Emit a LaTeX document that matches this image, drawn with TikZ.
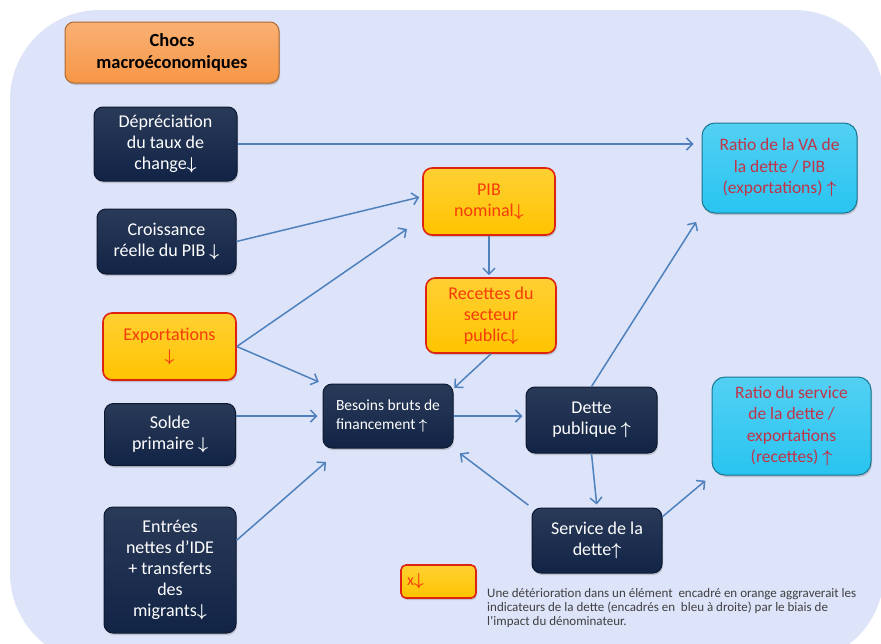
\documentclass[tikz,border=0pt]{standalone}
\usepackage{amsmath}
\usepackage{fontspec}
\setmainfont{Carlito}
\usepackage{xcolor}
\usetikzlibrary{arrows.meta, shadows, positioning}

\definecolor{fond}{RGB}{221,227,249}
\definecolor{marine}{RGB}{18,36,70}
\definecolor{jaune}{RGB}{255,196,0}
\definecolor{rouge}{RGB}{222,36,16}
\definecolor{orangetxt}{RGB}{245,60,10}
\definecolor{orangebox}{RGB}{247,150,70}
\definecolor{ciel}{RGB}{40,196,240}
\definecolor{cieltxt}{RGB}{192,52,72}
\definecolor{flechebleu}{RGB}{79,129,189}
\definecolor{note}{RGB}{64,64,64}

\newcommand{\bas}{$\boldsymbol{\downarrow}$}
\newcommand{\haut}{$\boldsymbol{\uparrow}$}

\begin{document}
\begin{tikzpicture}[x=1pt, y=-1pt,
    box/.style={rounded corners=9pt, align=center, inner sep=2pt,
        drop shadow={opacity=0.35, shadow xshift=1pt, shadow yshift=-2pt}},
    choc/.style={box, top color=marine!90!white, bottom color=marine, draw=marine!70!black,
        line width=1pt, text=white, font=\fontsize{18}{21}\selectfont},
    alerte/.style={box, top color=jaune!80!white, bottom color=jaune, draw=rouge,
        line width=1.6pt, text=orangetxt, font=\fontsize{18}{21}\selectfont},
    ratio/.style={box, rounded corners=13pt, top color=ciel!80!white, bottom color=ciel,
        draw=ciel!60!black, line width=1pt, text=cieltxt, font=\fontsize{17.5}{21.5}\selectfont},
    fleche/.style={-{Straight Barb[length=6pt, width=12pt]}, draw=flechebleu, line width=1.5pt}]

    % Background panel
    \useasboundingbox (0,0) rectangle (881,643);
    \clip (0,0) rectangle (881,643);
    \fill[white] (0,0) rectangle (881,643);
    \fill[fond, rounded corners=90pt] (10,10) rectangle (884,663);

    % Title box
    \node[box, top color=orangebox!75!white, bottom color=orangebox, draw=orangebox!70!black,
        line width=1pt, font=\bfseries\fontsize{18.5}{21.5}\selectfont,
        minimum width=214pt, minimum height=61pt] (chocs) at (172,52.5) {Chocs\\macroéconomiques};

    % Shocks on the left
    \node[choc, minimum width=143pt, minimum height=74pt] (deprec) at (165.5,144)
        {Dépréciation\\du taux de\\change\bas};
    \node[choc, minimum width=139pt, minimum height=65pt] (croiss) at (166.5,241.5)
        {Croissance\\réelle du PIB \bas};
    \node[alerte, minimum width=133pt, minimum height=67pt] (export) at (169.5,346.5)
        {Exportations\\\bas};
    \node[choc, minimum width=131pt, minimum height=62pt] (solde) at (170,434.5)
        {Solde\\primaire \bas};
    \node[choc, minimum width=132pt, minimum height=126pt] (entrees) at (170,570)
        {Entrées\\nettes d’IDE\\+ transferts\\des\\migrants\bas};

    % Middle chain
    \node[alerte, minimum width=132pt, minimum height=67pt] (pib) at (489,201.5)
        {PIB\\nominal\bas};
    \node[alerte, minimum width=130pt, minimum height=75pt] (recettes) at (491,315.5)
        {Recettes du\\secteur\\public\bas};
    \node[choc, align=left, font=\fontsize{15.5}{19.5}\selectfont,
        minimum width=130pt, minimum height=64pt] (besoins) at (388,416)
        {Besoins bruts de\\financement \haut};
    \node[choc, minimum width=131pt, minimum height=66pt] (dette) at (591.5,420)
        {Dette\\publique \haut};
    \node[choc, minimum width=130pt, minimum height=65pt] (service) at (597,540.5)
        {Service de la\\dette\haut};

    % Debt indicators on the right
    \node[ratio, minimum width=155pt, minimum height=90pt] (ratioVA) at (779.5,168)
        {Ratio de la VA de\\la dette / PIB\\(exportations) \haut};
    \node[ratio, minimum width=159pt, minimum height=98pt] (ratioSD) at (791.5,426)
        {Ratio du service\\de la dette /\\exportations\\(recettes) \haut};

    % Legend
    \node[alerte, rounded corners=5pt, text width=63pt, align=left, minimum height=33pt,
        inner sep=6pt, font=\fontsize{16}{19}\selectfont] (legende) at (438.5,581.5) {x\bas};
    \node[anchor=north west, align=left, text=note, font=\fontsize{13}{14}\selectfont,
        inner sep=0pt] (texte) at (487,588)
        {Une détérioration dans un élément \ encadré en orange aggraverait les\\
         indicateurs de la dette (encadrés en \ bleu à droite) par le biais de\\
         l’impact du dénominateur.};

    % Free ends of two arrows
    \coordinate (pibgap) at (407,229);
    \coordinate (bbfgap) at (326,462);

    % Arrows
    \draw[fleche, shorten >=8pt] (deprec.east) -- (deprec.east -| ratioVA.west);
    \draw[fleche, shorten >=3pt] (croiss.east) -- ([yshift=5pt]pib.west);
    \draw[fleche] (export.east) -- (pibgap);
    \draw[fleche, shorten >=4pt] (export.east) -- (besoins.north west);
    \draw[fleche, shorten >=5pt] (solde.east |- besoins.west) -- (besoins.west);
    \draw[fleche] (entrees.24) -- (bbfgap);
    \draw[fleche, shorten >=2pt] (pib.south) -- (pib.south |- recettes.north);
    \draw[fleche, shorten >=1pt] (recettes.south) -- ([yshift=-5pt]besoins.north east);
    \draw[fleche, shorten >=3pt] (besoins.east) -- (besoins.east -| dette.west);
    \draw[fleche, shorten >=3pt] (dette.south) -- (service.north);
    \draw[fleche, shorten <=4pt, shorten >=8pt] (service.north west) -- (besoins.south east);
    \draw[fleche, shorten >=10pt] (dette.north) -- (ratioVA.south west);
    \draw[fleche, shorten >=8pt] (service.20) -- (ratioSD.south west);
\end{tikzpicture}
\end{document}
